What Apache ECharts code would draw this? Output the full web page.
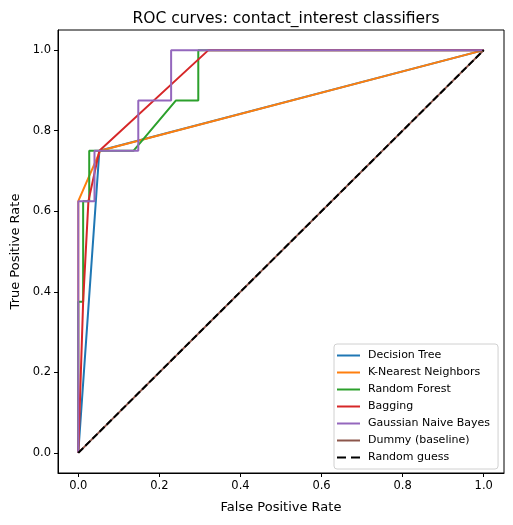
<!DOCTYPE html>
<html>
<head>
<meta charset="utf-8">
<script src="https://cdn.jsdelivr.net/npm/echarts@6/dist/echarts.min.js"></script>
<style>
  html, body { margin: 0; padding: 0; background: #fff; }
  #roc-chart { width: 513px; height: 525px; }
</style>
</head>
<body>
<div id="roc-chart"></div>
<script>
// ROC points (fpr / tpr per classifier)
var modelNames = ['Decision Tree', 'K-Nearest Neighbors', 'Random Forest', 'Bagging',
                  'Gaussian Naive Bayes', 'Dummy (baseline)', 'Random guess'];

var treeFpr = [0, 0.052, 1];
var treeTpr = [0, 0.75, 1];

var knnFpr = [0, 0, 0.054, 1];
var knnTpr = [0, 0.625, 0.75, 1];

var forestFpr = [0, 0, 0.012, 0.012, 0.027, 0.027, 0.136, 0.241, 0.296, 0.296, 1];
var forestTpr = [0, 0.375, 0.375, 0.625, 0.625, 0.75, 0.75, 0.875, 0.875, 1, 1];

var baggingFpr = [0, 0.012, 0.025, 0.052, 0.321, 1];
var baggingTpr = [0, 0.375, 0.625, 0.75, 1, 1];

var bayesFpr = [0, 0, 0.040, 0.040, 0.148, 0.148, 0.229, 0.229, 1];
var bayesTpr = [0, 0.625, 0.625, 0.75, 0.75, 0.875, 0.875, 1, 1];

var dummyFpr = [0, 1];
var dummyTpr = [0, 1];

var guessFpr = [0, 1];
var guessTpr = [0, 1];

var tickValues = [0, 0.2, 0.4, 0.6, 0.8, 1.0];

var colors = ['#1f77b4', '#ff7f0e', '#2ca02c', '#d62728', '#9467bd', '#8c564b', '#000000'];

// legend handles: a plain stroke, and two dashes for the random guess
var solidIcon = 'path://M0,0h23v2h-23z';
var dashIcon = 'path://M0,0h9v2h-9zM14,0h9v2h-9z';

function pairs(xs, ys) {
  return xs.map(function (x, i) { return [x, ys[i]]; });
}

var curves = [
  pairs(treeFpr, treeTpr),
  pairs(knnFpr, knnTpr),
  pairs(forestFpr, forestTpr),
  pairs(baggingFpr, baggingTpr),
  pairs(bayesFpr, bayesTpr),
  pairs(dummyFpr, dummyTpr),
  pairs(guessFpr, guessTpr)
];

var font = 'DejaVu Sans';

var axisCommon = {
  type: 'value',
  min: -0.05,
  max: 1.05,
  splitLine: {show: false},
  axisLine: {show: true, onZero: false, lineStyle: {color: '#000', width: 1}},
  axisTick: {show: true, customValues: tickValues, length: 4, lineStyle: {color: '#000'}},
  axisLabel: {
    customValues: tickValues,
    color: '#000',
    fontFamily: font,
    fontSize: 11.5,
    margin: 7,
    formatter: function (v) { return v.toFixed(1); }
  },
  nameLocation: 'middle',
  nameTextStyle: {color: '#000', fontFamily: font, fontSize: 13}
};

var chart = echarts.init(document.getElementById('roc-chart'));

var option = {
  animation: false,
  color: colors,
  title: {
    text: 'ROC curves: contact_interest classifiers',
    left: 281,
    textAlign: 'center',
    top: 6,
    textStyle: {color: '#000', fontFamily: font, fontSize: 15.5, fontWeight: 'normal'}
  },
  grid: {
    left: 58, top: 30, width: 446, height: 443,
    show: true, borderColor: '#000', borderWidth: 1
  },
  xAxis: Object.assign({}, axisCommon, {name: 'False Positive Rate', nameGap: 28}),
  yAxis: Object.assign({}, axisCommon, {name: 'True Positive Rate', nameGap: 32}),
  legend: {
    orient: 'vertical',
    left: 334,
    top: 344,
    padding: [6, 8, 6, 3],
    itemWidth: 23,
    itemHeight: 11,
    itemGap: 6,
    borderColor: '#d0d0d0',
    borderWidth: 1,
    borderRadius: 3,
    backgroundColor: 'rgba(255,255,255,0.8)',
    textStyle: {color: '#000', fontFamily: font, fontSize: 11, padding: [0, 0, 0, 3]},
    data: modelNames.map(function (n, i) {
      return {name: n, icon: i === modelNames.length - 1 ? dashIcon : solidIcon};
    })
  },
  series: curves.map(function (pts, i) {
    var dashed = i === curves.length - 1;
    return {
      name: modelNames[i],
      type: 'line',
      data: pts,
      symbol: 'none',
      z: 2 + i,
      itemStyle: {color: colors[i]},
      lineStyle: {color: colors[i], width: 2, type: dashed ? [7, 3] : 'solid'}
    };
  })
};

chart.setOption(option);
</script>
</body>
</html>
